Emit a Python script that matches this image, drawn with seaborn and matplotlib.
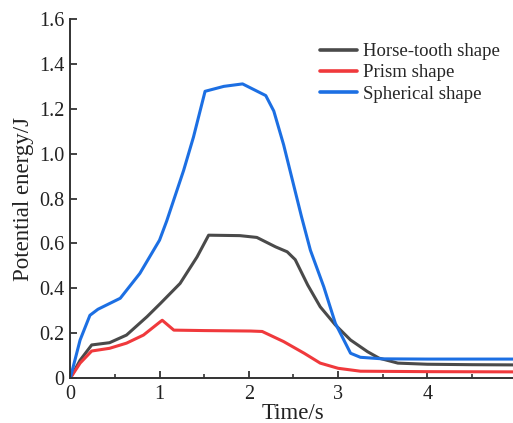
import matplotlib
matplotlib.use("Agg")
import matplotlib.pyplot as plt
import pandas as pd
import seaborn as sns
from matplotlib.ticker import MultipleLocator

# Potential energy (J) over time (s) for three particle shapes
horse_t = [0.0, 0.11, 0.24, 0.44, 0.63, 0.86, 1.01, 1.23, 1.42, 1.55, 1.90, 2.09, 2.30, 2.43,
           2.52, 2.66, 2.80, 2.97, 3.14, 3.33, 3.46, 3.67, 4.0, 4.5, 5.0]
horse_e = [0.0, 0.08, 0.148, 0.158, 0.192, 0.274, 0.333, 0.422, 0.54, 0.637, 0.635, 0.627, 0.585, 0.563,
           0.528, 0.415, 0.318, 0.237, 0.17, 0.118, 0.089, 0.067, 0.062, 0.060, 0.059]

prism_t = [0.0, 0.11, 0.24, 0.44, 0.63, 0.82, 1.01, 1.03, 1.16, 1.5, 2.02, 2.15, 2.39, 2.62,
           2.80, 3.00, 3.25, 4.0, 5.0]
prism_e = [0.0, 0.067, 0.121, 0.133, 0.156, 0.192, 0.252, 0.258, 0.214, 0.212, 0.21, 0.208, 0.163, 0.111,
           0.067, 0.044, 0.031, 0.029, 0.028]

sphere_t = [0.0, 0.11, 0.22, 0.31, 0.56, 0.78, 1.0, 1.08, 1.27, 1.38, 1.51, 1.72, 1.93, 2.19,
            2.28, 2.39, 2.49, 2.59, 2.69, 2.84, 2.97, 3.14, 3.25, 3.5, 4.0, 5.0]
sphere_e = [0.0, 0.17, 0.28, 0.307, 0.356, 0.467, 0.615, 0.70, 0.926, 1.074, 1.278, 1.30, 1.311, 1.259,
            1.19, 1.04, 0.88, 0.72, 0.57, 0.407, 0.244, 0.111, 0.093, 0.086, 0.085, 0.085]

labels = ["Horse-tooth shape", "Prism shape", "Spherical shape"]
colors = ["#4a4a4a", "#f0393c", "#1c6fe3"]

df = pd.concat([
    pd.DataFrame({"Time": horse_t, "Energy": horse_e, "Shape": labels[0]}),
    pd.DataFrame({"Time": prism_t, "Energy": prism_e, "Shape": labels[1]}),
    pd.DataFrame({"Time": sphere_t, "Energy": sphere_e, "Shape": labels[2]}),
], ignore_index=True)

sns.set_style("ticks")
plt.rcParams["font.family"] = ["Liberation Serif", "DejaVu Serif"]
plt.rcParams["xtick.direction"] = "in"
plt.rcParams["ytick.direction"] = "in"

fig = plt.figure(figsize=(5.13, 4.23), dpi=100)
ax = fig.add_axes([0.137, 0.106, 0.87, 0.849])

sns.lineplot(data=df, x="Time", y="Energy", hue="Shape", hue_order=labels,
             palette=colors, linewidth=2.2, sort=False, estimator=None, ax=ax)

ax.set_xlim(0, 5)
ax.set_ylim(0, 1.6)
ax.xaxis.set_major_locator(MultipleLocator(1))
ax.xaxis.set_minor_locator(MultipleLocator(0.5))
ax.yaxis.set_major_locator(MultipleLocator(0.2))
ax.yaxis.set_major_formatter(plt.FuncFormatter(lambda v, _: "0" if abs(v) < 1e-9 else f"{v:.1f}"))
ax.xaxis.set_major_formatter(plt.FuncFormatter(lambda v, _: f"{v:.0f}"))

for side in ("top", "right"):
    ax.spines[side].set_visible(False)
for side in ("left", "bottom"):
    ax.spines[side].set_linewidth(1.4)
    ax.spines[side].set_color("#333333")

ax.tick_params(axis="both", which="major", length=5, width=1.3, labelsize=14.5,
               colors="#333333", labelcolor="#222222")
ax.tick_params(axis="x", which="major", pad=5)
ax.tick_params(axis="y", which="major", pad=4)
ax.tick_params(axis="x", which="minor", length=3, width=1.2, colors="#333333")

ax.set_xlabel("Time/s", fontsize=16.5, labelpad=-1, color="#222222")
ax.set_ylabel("Potential energy/J", fontsize=16.5, labelpad=4, color="#222222")

leg = ax.legend(loc="upper right", bbox_to_anchor=(1.0, 0.98), frameon=False,
                fontsize=13.5, handlelength=2.0, handletextpad=0.3, labelspacing=0.22)
for line in leg.get_lines():
    line.set_linewidth(2.6)

fig.savefig("out.png", dpi=100)
